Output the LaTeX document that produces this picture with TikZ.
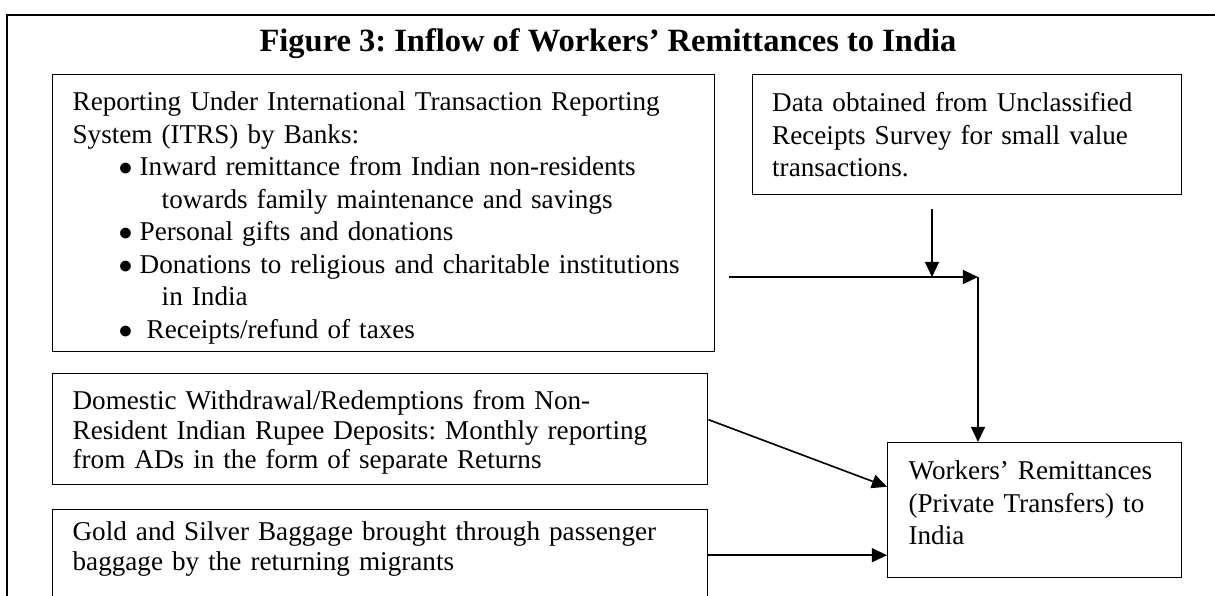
\documentclass[tikz,border=0pt]{standalone}
\usepackage{fontspec}
\setmainfont{Liberation Serif}
\usepackage{tikz}
\usetikzlibrary{arrows.meta, positioning, calc}
\frenchspacing

\newcommand{\itrsitem}[1]{\hspace*{19.8pt}\makebox[9.1pt][l]{$\bullet$}#1}
\newcommand{\itrscont}[1]{\hspace*{38.4pt}#1}

\tikzset{
  srcbox/.style={draw, line width=0.6pt, inner ysep=0pt, align=left, anchor=north west,
    font=\fontsize{11.7}{14}\selectfont},
  flow/.style={line width=0.7pt, -{Triangle[length=6.5pt, width=6pt]}}
}

\begin{document}
\begin{tikzpicture}[x=0.431pt, y=-0.431pt]
  \useasboundingbox (0,0) rectangle (1215,595);
  \clip (0,0) rectangle (1215,595);

  % Frame and title
  \draw[line width=0.9pt] (7,605) -- (7,15) -- (1225,15);
  \node[anchor=base, font=\fontsize{14}{16}\selectfont\bfseries] (title) at (608,51)
    {Figure 3: Inflow of Workers’ Remittances to India};

  % Sources
  \node[srcbox, inner xsep=8.6pt, text width=268.1pt, minimum width=285.3pt, minimum height=119.4pt] (itrs) at (52,74) {
    \rule{0pt}{12.3pt}Reporting Under International Transaction Reporting\\
    System (ITRS) by Banks:\\
    \itrsitem{Inward remittance from Indian non-residents}\\
    \itrscont{towards family maintenance and savings}\\
    \itrsitem{Personal gifts and donations}\\
    \itrsitem{Donations to religious and charitable institutions}\\
    \itrscont{in India}\\
    \hspace*{19.8pt}\makebox[12.1pt][l]{$\bullet$}Receipts/refund of taxes
  };

  \node[srcbox, inner xsep=8.4pt, text width=168.1pt, minimum width=184.9pt, minimum height=51.7pt] (survey) at (752,74) {
    Data obtained from Unclassified\\
    Receipts Survey for small value\\
    transactions.
  };

  \node[srcbox, inner xsep=8.6pt, text width=265.1pt, minimum width=282.3pt, minimum height=47.8pt,
    font=\fontsize{11.7}{12.7}\selectfont] (domestic) at (52,373) {
    \rule{0pt}{11pt}Domestic Withdrawal/Redemptions from Non-\\
    Resident Indian Rupee Deposits: Monthly reporting\\
    from ADs in the form of separate Returns
  };

  \node[srcbox, inner xsep=8.6pt, text width=265.1pt, minimum width=282.3pt, minimum height=39.2pt,
    font=\fontsize{11.7}{12.9}\selectfont] (gold) at (52,509) {
    Gold and Silver Baggage brought through passenger\\
    baggage by the returning migrants\rule[-7.8pt]{0pt}{0pt}
  };

  % Result
  \node[srcbox, inner xsep=9pt, text width=108.7pt, minimum width=126.7pt, minimum height=58.2pt] (wr) at (887,442) {
    Workers’ Remittances\\
    (Private Transfers) to\\
    India\rule[-6.5pt]{0pt}{0pt}
  };

  % Connectors
  \coordinate (aout) at (729,277);
  \coordinate (join) at (978,277);
  \coordinate (bout) at (932,209);
  \draw[flow] (aout) -- (join);
  \draw[flow] (bout) -- (bout |- join);
  \draw[flow] (join) -- (join |- wr.north);
  \draw[flow] ([yshift=4.1pt]domestic.east) -- ([yshift=10.1pt]wr.west);
  \draw[flow] (gold.east) -- (gold.east -| wr.west);
\end{tikzpicture}
\end{document}
